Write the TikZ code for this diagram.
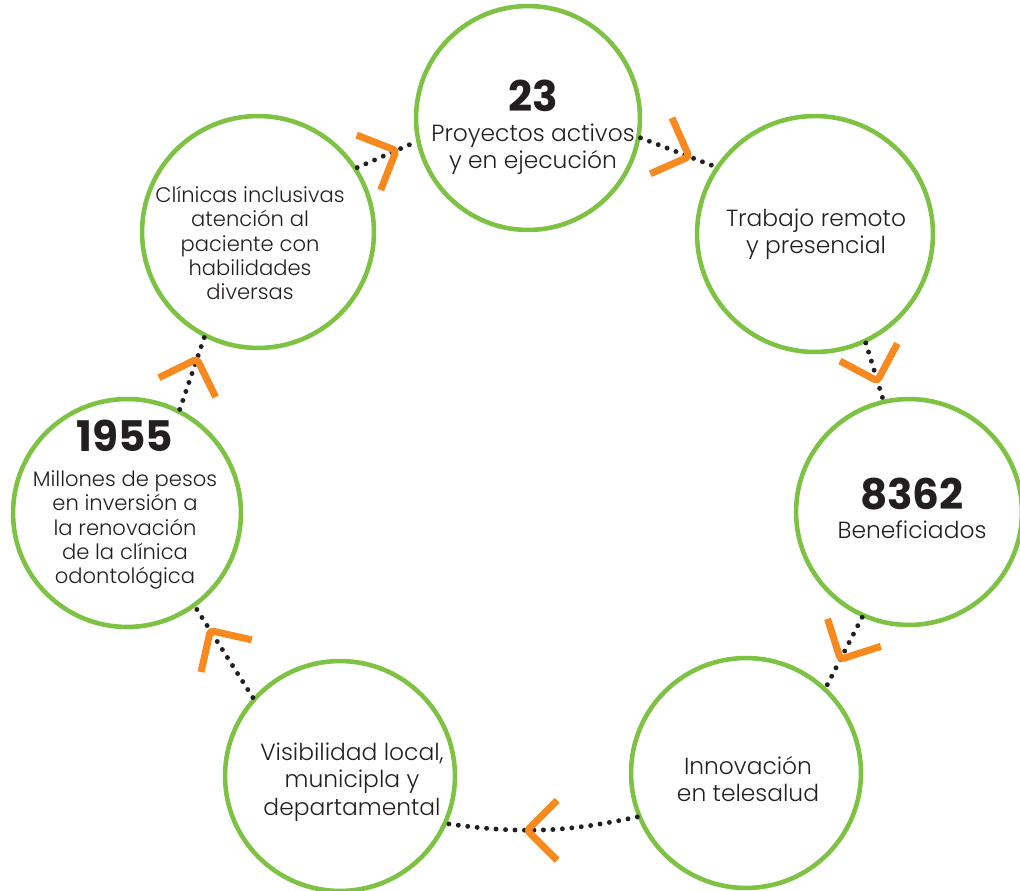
\documentclass[tikz,border=0pt]{standalone}
\usepackage{fontspec}
\setmainfont{Poppins Light}[BoldFont=Poppins Bold]
\usetikzlibrary{decorations.markings}
\definecolor{leaf}{HTML}{7DC242}
\definecolor{tang}{HTML}{F7891F}
\definecolor{ink}{HTML}{231F20}

\tikzset{
  ring/.style={circle, draw=leaf, line width=2.6pt, inner sep=0pt, minimum size=#1*0.04cm},
  dots/.style={ink, line width=2.8pt, line cap=round, dash pattern=on 0pt off 5.4pt},
  chev/.style={postaction={decorate, decoration={markings, mark=at position #1 with
    {\draw[tang, solid, line width=4pt, line cap=butt, rounded corners=2pt]
      (-0.6cm,0.6cm) -- (0,0) -- (-0.6cm,-0.6cm);}}}},
  num/.style={text=ink, inner sep=0pt, font=\fontsize{24}{24}\selectfont\bfseries},
  txt/.style={text=ink, align=center, inner sep=0pt, font=\fontsize{13.3}{15.5}\selectfont},
  small/.style={text=ink, align=center, inner sep=0pt, font=\fontsize{12}{13.9}\selectfont}
}

\begin{document}
\begin{tikzpicture}[x=0.02cm, y=-0.02cm]
    \useasboundingbox (0,0) rectangle (1020,891);

    % circles, clockwise from the top
    \node[ring=112] (c1) at (528,118) {};
    \node[ring=118] (c2) at (815,234) {};
    \node[ring=113] (c3) at (909,512) {};
    \node[ring=115] (c4) at (746,773) {};
    \node[ring=115] (c5) at (340,776) {};
    \node[ring=114] (c6) at (127,513) {};
    \node[ring=116] (c7) at (258,232) {};

    % texts
    \node[num] (n1) at (533,96) {23};
    \node[txt] (t1) at (533,149) {Proyectos activos\\y en ejecución};
    \node[txt] (t2) at (816,234) {Trabajo remoto\\y presencial};
    \node[num] (n3) at (912,494) {8362};
    \node[txt] (t3) at (912,530) {Beneficiados};
    \node[txt] (t4) at (748,779) {Innovación\\en telesalud};
    \node[txt] (t5) at (352,782) {Visibilidad local,\\municipla y\\departamental};
    \node[num] (n6) at (125,436) {1955};
    \node[small] (t6) at (125,530) {Millones de pesos\\en inversión a\\la renovación\\de la clínica\\odontológica};
    \node[small] (t7) at (250,243) {Clínicas inclusivas\\atención al\\paciente con\\habilidades\\diversas};

    % dotted links with chevrons
    \draw[dots, chev=0.66] (c7.33) -- (c1.192);
    \draw[dots, chev=0.65] (c1.350) -- (c2.146);
    \draw[dots, chev=0.67] (c2.295) -- (c3.103);
    \draw[dots, chev=0.6] (c3.246) -- (c4.47);
    \draw[dots, chev=0.58] (c4.202) to[bend left=10] (c5.336);
    \draw[dots, chev=0.74] (c5.138) -- (c6.306);
    \draw[dots, chev=0.7] (c6.63) -- (c7.243);
\end{tikzpicture}
\end{document}
